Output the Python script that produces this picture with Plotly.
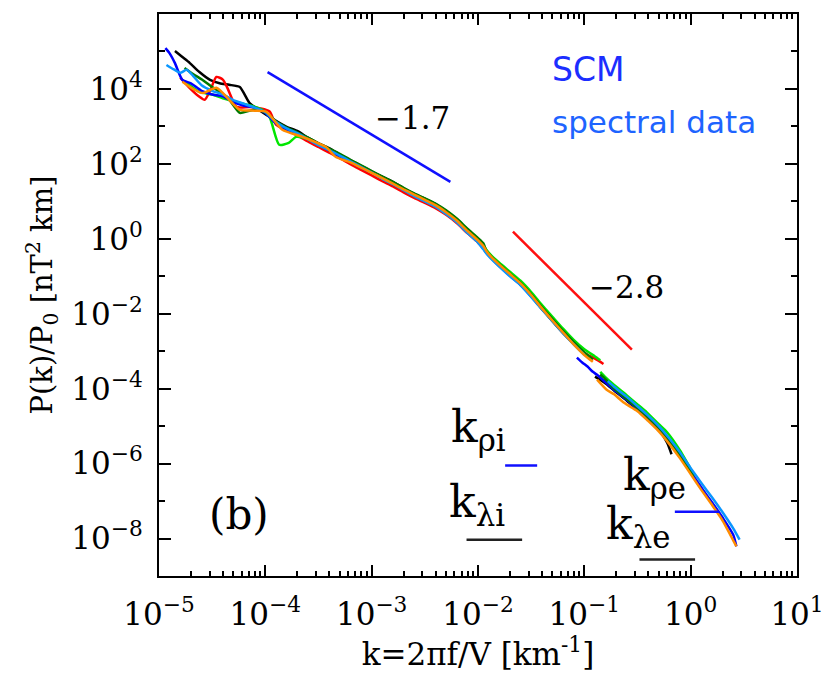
import plotly.graph_objects as go

# ---------------- data (log10 exponents) ----------------
# Low-frequency (FGM) part of each spectrum: log10 k [km^-1], log10 P/P0
black_fgm_logk = [-4.85, -4.78, -4.71, -4.62, -4.52, -4.43, -4.34, -4.24, -4.15, -4.06,
                  -3.9, -3.8, -3.7, -3.6, -3.5, -3.4, -3.3, -3.2, -3.1, -3.0, -2.9, -2.8,
                  -2.7, -2.6, -2.5, -2.4, -2.3, -2.2, -2.1, -2.0, -1.95, -1.92, -1.88, -1.8,
                  -1.7, -1.6, -1.5, -1.4, -1.3, -1.2, -1.1, -1.0]
black_fgm_logp = [5.01, 4.85, 4.69, 4.45, 4.24, 4.15, 4.11, 4.05, 3.63, 3.44,
                  3.15, 2.99, 2.88, 2.70, 2.55, 2.42, 2.25, 2.10, 1.95, 1.80, 1.66, 1.52,
                  1.35, 1.20, 1.07, 0.93, 0.74, 0.52, 0.24, -0.02, -0.18, -0.32, -0.46, -0.70,
                  -0.96, -1.22, -1.53, -1.87, -2.20, -2.52, -2.80, -3.05]

blue_fgm_logk = [-4.94, -4.90, -4.85, -4.78, -4.7, -4.6, -4.5, -4.4, -4.3, -4.2, -4.1, -4.0,
                 -3.9, -3.8, -3.7, -3.6, -3.5, -3.4, -3.3, -3.2, -3.1, -3.0, -2.9, -2.8,
                 -2.7, -2.6, -2.5, -2.4, -2.3, -2.2, -2.1, -2.0, -1.95, -1.9, -1.8,
                 -1.7, -1.6, -1.5, -1.4, -1.3, -1.2, -1.1, -1.0, -0.95]
blue_fgm_logp = [5.09, 4.95, 4.69, 4.24, 4.15, 3.95, 3.85, 3.80, 3.65, 3.55, 3.50, 3.36,
                 3.08, 2.92, 2.80, 2.66, 2.52, 2.36, 2.20, 2.05, 1.90, 1.77, 1.62, 1.46,
                 1.31, 1.17, 1.02, 0.88, 0.70, 0.47, 0.18, -0.07, -0.25, -0.44, -0.72,
                 -0.98, -1.23, -1.53, -1.86, -2.18, -2.50, -2.80, -3.08, -3.20]

lblue_fgm_logk = [-4.93, -4.86, -4.80, -4.74, -4.68, -4.6, -4.5, -4.4, -4.3, -4.2, -4.1, -4.0,
                  -3.9, -3.8, -3.7, -3.6, -3.5, -3.4, -3.3, -3.2, -3.1, -3.0, -2.9, -2.8,
                  -2.7, -2.6, -2.5, -2.4, -2.3, -2.2, -2.1, -2.0, -1.95, -1.92, -1.88, -1.8,
                  -1.7, -1.6, -1.5, -1.4, -1.3, -1.2, -1.1, -1.0]
lblue_fgm_logp = [4.64, 4.52, 4.43, 4.51, 4.35, 4.10, 3.95, 3.85, 3.70, 3.60, 3.50, 3.38,
                  3.12, 2.95, 2.82, 2.66, 2.50, 2.37, 2.22, 2.07, 1.92, 1.77, 1.60, 1.46,
                  1.30, 1.14, 1.00, 0.86, 0.66, 0.44, 0.16, -0.10, -0.28, -0.40, -0.52, -0.74,
                  -1.00, -1.24, -1.55, -1.88, -2.20, -2.52, -2.82, -3.10]

red_fgm_logk = [-4.80, -4.72, -4.62, -4.57, -4.52, -4.46, -4.40, -4.36, -4.27, -4.15, -4.05,
                -3.96, -3.90, -3.8, -3.7, -3.6, -3.5, -3.4, -3.3, -3.2, -3.1, -3.0, -2.9,
                -2.8, -2.7, -2.6, -2.5, -2.4, -2.3, -2.2, -2.1, -2.0, -1.95, -1.92, -1.88,
                -1.8, -1.7, -1.6, -1.5, -1.4, -1.3, -1.2, -1.1, -1.0, -0.9, -0.82]
red_fgm_logp = [4.30, 4.05, 3.79, 3.71, 3.95, 4.32, 4.25, 4.05, 3.52, 3.52, 3.48,
                3.40, 3.05, 2.90, 2.76, 2.60, 2.45, 2.30, 2.15, 1.99, 1.84, 1.69, 1.54,
                1.40, 1.24, 1.09, 0.96, 0.82, 0.64, 0.42, 0.15, -0.10, -0.26, -0.38, -0.50,
                -0.73, -0.98, -1.22, -1.52, -1.86, -2.18, -2.50, -2.78, -3.04, -3.20, -3.34]

lime_fgm_logk = [-4.74, -4.62, -4.5, -4.4, -4.27, -4.13, -4.03, -3.96, -3.87, -3.78, -3.71,
                 -3.6, -3.5, -3.4, -3.3, -3.2, -3.1, -3.0, -2.9, -2.8, -2.7, -2.6, -2.5,
                 -2.4, -2.3, -2.2, -2.1, -2.0, -1.95, -1.92, -1.88, -1.8, -1.7, -1.6, -1.5,
                 -1.4, -1.3, -1.2, -1.1, -1.0, -0.9, -0.85]
lime_fgm_logp = [4.16, 3.92, 3.85, 3.75, 3.65, 3.55, 3.44, 3.25, 2.51, 2.56, 2.72,
                 2.66, 2.52, 2.38, 2.23, 2.08, 1.93, 1.78, 1.63, 1.48, 1.32, 1.18, 1.05,
                 0.92, 0.74, 0.52, 0.25, 0.00, -0.16, -0.30, -0.43, -0.64, -0.88, -1.12, -1.42,
                 -1.76, -2.08, -2.40, -2.70, -2.95, -3.14, -3.24]

dgreen_fgm_logk = [-4.76, -4.68, -4.59, -4.5, -4.36, -4.24, -4.15, -4.06, -3.99,
                   -3.9, -3.8, -3.7, -3.6, -3.5, -3.4, -3.3, -3.2, -3.1, -3.0, -2.9, -2.8,
                   -2.7, -2.6, -2.5, -2.4, -2.3, -2.2, -2.1, -2.0, -1.95, -1.92, -1.88, -1.8,
                   -1.7, -1.6, -1.5, -1.4, -1.3, -1.2, -1.1, -1.0, -0.92]
dgreen_fgm_logp = [4.56, 4.40, 4.24, 4.05, 3.79, 3.36, 3.42, 3.44, 3.36,
                   3.14, 2.97, 2.84, 2.70, 2.55, 2.41, 2.27, 2.11, 1.96, 1.81, 1.66, 1.52,
                   1.36, 1.21, 1.08, 0.94, 0.76, 0.54, 0.27, 0.02, -0.12, -0.34, -0.46, -0.68,
                   -0.93, -1.18, -1.48, -1.82, -2.14, -2.46, -2.76, -3.03, -3.22]

orange_fgm_logk = [-4.78, -4.68, -4.59, -4.46, -4.34, -4.24, -4.1, -3.99, -3.84, -3.65,
                   -3.43, -3.34, -3.2, -3.1, -3.0, -2.9, -2.8, -2.7, -2.6, -2.5, -2.4,
                   -2.3, -2.2, -2.1, -2.0, -1.95, -1.92, -1.88, -1.8, -1.7, -1.6, -1.5,
                   -1.4, -1.3, -1.2, -1.1, -1.0, -0.92]
orange_fgm_logp = [4.19, 4.00, 3.89, 4.03, 3.71, 3.44, 3.42, 3.39, 2.91, 2.72,
                   2.45, 2.19, 2.04, 1.90, 1.76, 1.62, 1.47, 1.32, 1.18, 1.04, 0.90,
                   0.71, 0.49, 0.21, -0.04, -0.19, -0.33, -0.47, -0.69, -0.94, -1.19, -1.50,
                   -1.85, -2.18, -2.50, -2.82, -3.10, -3.28]

# High-frequency (SCM) part of each spectrum
blue_scm_logk = [-1.07, -1.02, -0.97, -0.92, -0.88, -0.8, -0.72, -0.6, -0.5, -0.4, -0.3,
                 -0.2, -0.1, 0.0, 0.1, 0.2, 0.3, 0.4, 0.43]
blue_scm_logp = [-3.17, -3.30, -3.41, -3.55, -3.63, -3.83, -4.03, -4.30, -4.55, -4.80, -5.08,
                 -5.42, -5.80, -6.23, -6.64, -7.03, -7.44, -7.90, -8.21]
lblue_scm_logk = [-0.78, -0.72, -0.6, -0.5, -0.4, -0.3, -0.2, -0.1, 0.0, 0.1, 0.2, 0.3, 0.4, 0.46]
lblue_scm_logp = [-3.80, -3.95, -4.22, -4.47, -4.72, -5.00, -5.33, -5.70, -6.12, -6.52, -6.90,
                  -7.30, -7.73, -8.03]
orange_scm_logk = [-0.88, -0.79, -0.72, -0.63, -0.5, -0.4, -0.3, -0.2, -0.1, 0.0, 0.1, 0.2,
                   0.3, 0.43]
orange_scm_logp = [-3.76, -4.03, -4.15, -4.37, -4.60, -4.86, -5.14, -5.48, -5.86, -6.28, -6.70,
                   -7.10, -7.52, -8.21]
black_scm_logk = [-0.90, -0.8, -0.72, -0.6, -0.5, -0.4, -0.3, -0.22, -0.18]
black_scm_logp = [-3.68, -3.86, -4.05, -4.32, -4.56, -4.80, -5.08, -5.45, -5.75]
lime_scm_logk = [-0.85, -0.8, -0.72, -0.6, -0.5, -0.41, -0.3, -0.22, -0.1, 0.03]
lime_scm_logp = [-3.55, -3.70, -3.90, -4.18, -4.42, -4.64, -4.95, -5.17, -5.65, -6.30]
dgreen_scm_logk = [-0.85, -0.8, -0.72, -0.6, -0.5, -0.4, -0.3, -0.2, -0.1, 0.03]
dgreen_scm_logp = [-3.62, -3.75, -4.00, -4.28, -4.52, -4.77, -5.05, -5.38, -5.77, -6.35]
red_scm_logk = [-0.82, -0.72, -0.6, -0.5, -0.4, -0.3, -0.2, -0.1, 0.0, 0.1]
red_scm_logp = [-3.75, -4.01, -4.28, -4.52, -4.78, -5.06, -5.40, -5.78, -6.22, -6.64]

# reference power laws (end points) and scale markers
fit17_k = [1.05e-4, 5.5e-3]
fit17_p = [2.8e4, 33.0]
fit28_k = [2.13e-2, 0.28]
fit28_p = [1.55, 1.1e-3]
k_rho_i = [1.8e-2, 3.6e-2]
k_rho_i_p = 8.9e-7
k_lambda_i = [7.8e-3, 2.6e-2]
k_lambda_i_p = 9.3e-9
k_rho_e = [0.71, 1.86]
k_rho_e_p = 5.2e-8
k_lambda_e = [0.33, 1.1]
k_lambda_e_p = 2.75e-9

x_tick_vals = [1e-5, 1e-4, 1e-3, 1e-2, 1e-1, 1, 10]
x_tick_text = ["10<sup>−5</sup>", "10<sup>−4</sup>", "10<sup>−3</sup>", "10<sup>−2</sup>",
               "10<sup>−1</sup>", "10<sup>0</sup>", "10<sup>1</sup>"]
y_tick_vals = [1e-8, 1e-6, 1e-4, 1e-2, 1, 1e2, 1e4, 1e6]
y_tick_text = ["10<sup>−8</sup>", "10<sup>−6</sup>", "10<sup>−4</sup>", "10<sup>−2</sup>",
               "10<sup>0</sup>", "10<sup>2</sup>", "10<sup>4</sup>", "10<sup>6</sup>"]
y_minor_vals = [1e-9, 1e-7, 1e-5, 1e-3, 1e-1, 10, 1e3, 1e5]

# ---------------- figure ----------------
def pw(v):
    return [10 ** e for e in v]

fig = go.Figure()
series = [
    ("black", black_fgm_logk, black_fgm_logp, black_scm_logk, black_scm_logp),
    ("#ff0000", red_fgm_logk, red_fgm_logp, red_scm_logk, red_scm_logp),
    ("#00e600", lime_fgm_logk, lime_fgm_logp, lime_scm_logk, lime_scm_logp),
    ("#0000ff", blue_fgm_logk, blue_fgm_logp, blue_scm_logk, blue_scm_logp),
    ("#007a00", dgreen_fgm_logk, dgreen_fgm_logp, dgreen_scm_logk, dgreen_scm_logp),
    ("#0a96ff", lblue_fgm_logk, lblue_fgm_logp, lblue_scm_logk, lblue_scm_logp),
    ("#ff8c00", orange_fgm_logk, orange_fgm_logp, orange_scm_logk, orange_scm_logp),
]
for color, lk, lp, hk, hp in series:
    for kk, pp in ((lk, lp), (hk, hp)):
        fig.add_trace(go.Scatter(x=pw(kk), y=pw(pp), mode="lines",
                                 line=dict(color=color, width=2.5, shape="spline", smoothing=0.6),
                                 showlegend=False, hoverinfo="skip"))

fig.add_trace(go.Scatter(x=fit17_k, y=fit17_p, mode="lines",
                         line=dict(color="#1010ff", width=2.5), showlegend=False))
fig.add_trace(go.Scatter(x=fit28_k, y=fit28_p, mode="lines",
                         line=dict(color="#ff1010", width=2.5), showlegend=False))
for seg, yv, col in ((k_rho_i, k_rho_i_p, "#1010ff"), (k_lambda_i, k_lambda_i_p, "#222222"),
                     (k_rho_e, k_rho_e_p, "#1010ff"), (k_lambda_e, k_lambda_e_p, "#222222")):
    fig.add_trace(go.Scatter(x=seg, y=[yv, yv], mode="lines",
                             line=dict(color=col, width=2.5), showlegend=False))

SERIF = "DejaVu Serif"
L, R, T, B = 159, 34, 14, 101
W, H = 836, 678
PW, PH = W - L - R, H - T - B

def px(x):
    return (x - L) / PW

def py(y):
    return (H - B - y) / PH

ann = []
def add_text(text, x, y, size, color="black", family=SERIF, xanchor="center"):
    ann.append(dict(text=text, x=px(x), y=py(y), xref="paper", yref="paper",
                    xanchor=xanchor, yanchor="middle", showarrow=False,
                    font=dict(family=family, size=size, color=color)))

add_text("−1.7", 414, 118, 31)
add_text("−2.8", 630, 287, 31)
add_text("SCM", 553, 70, 33, color="#1c2eff", family="DejaVu Sans", xanchor="left")
add_text("spectral data", 553, 122, 31, color="#1e64ff", family="DejaVu Sans", xanchor="left")
add_text("(b)", 240, 515, 42)
add_text("k<sub>ρi</sub>", 451, 430, 44, xanchor="left")
add_text("k<sub>λi</sub>", 449, 505, 44, xanchor="left")
add_text("k<sub>ρe</sub>", 625, 478, 44, xanchor="left")
add_text("k<sub>λe</sub>", 607, 527, 44, xanchor="left")

axis_common = dict(type="log", showline=True, linecolor="black", linewidth=2,
                   mirror="allticks", ticks="inside", tickcolor="black", tickwidth=1.5,
                   showgrid=False, zeroline=False, tickmode="array",
                   tickfont=dict(family=SERIF, size=31, color="black"))

fig.update_layout(
    width=W, height=H, margin=dict(l=L, r=R, t=T, b=B),
    paper_bgcolor="white", plot_bgcolor="white",
    annotations=ann,
    xaxis=dict(axis_common, range=[-5, 1], tickvals=x_tick_vals, ticktext=x_tick_text,
               ticklen=11, ticklabelstandoff=10, tickangle=0,
               minor=dict(ticks="inside", ticklen=5, tickwidth=1.5, tickcolor="black", dtick="D1"),
               title=dict(text="k=2πf/V [km<sup>-1</sup>]", standoff=12,
                          font=dict(family=SERIF, size=31, color="black"))),
    yaxis=dict(axis_common, range=[-9, 6], tickvals=y_tick_vals, ticktext=y_tick_text,
               ticklen=12, ticklabelstandoff=8,
               minor=dict(ticks="inside", ticklen=6, tickwidth=1.5, tickcolor="black",
                          tickvals=y_minor_vals),
               title=dict(text="P(k)/P<sub>0</sub> [nT<sup>2</sup> km]", standoff=10,
                          font=dict(family=SERIF, size=29, color="black"))),
)

fig.write_html("out.html")
